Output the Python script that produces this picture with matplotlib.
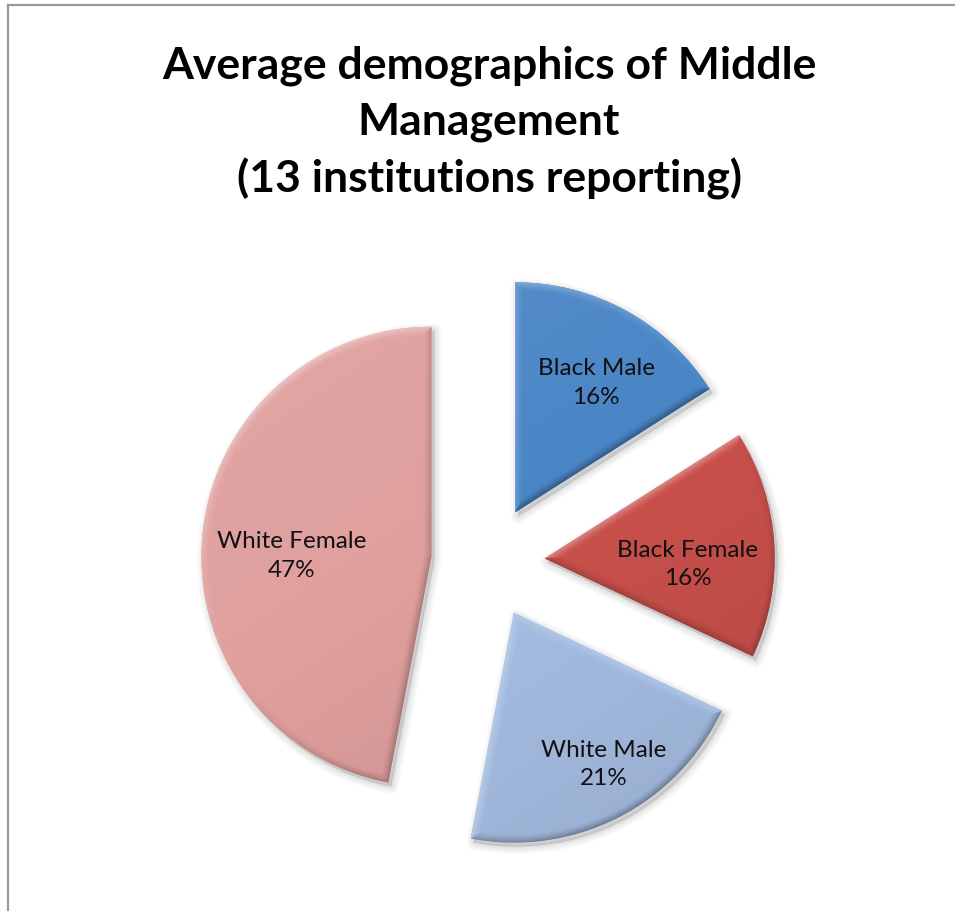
import numpy as np
import matplotlib.pyplot as plt
from matplotlib.patches import Wedge
from matplotlib.colors import to_rgb
from matplotlib.lines import Line2D

labels = ['Black Male', 'Black Female', 'White Male', 'White Female']
shares = [16, 16, 21, 47]
colors = ['#4a85c6', '#c8504b', '#a5bce1', '#df9f9d']
title = 'Average demographics of Middle\nManagement\n(13 institutions reporting)'

W, H = 955, 912
cx, cy, rad = 488, 563, 230      # pie centre / radius in pixels
pull = 0.247                     # explode distance in radii
label_r = [0.666, 0.622, 0.764, 0.609]   # label distance from slice tip
label_turn = [-3.1, -5.6, 3.8, 4.6]      # degrees off the slice mid-line

fig = plt.figure(figsize=(W / 100, H / 100), dpi=100)
ax = fig.add_axes([0, 0, 1, 1])

wedges, _ = ax.pie(shares, colors=colors, startangle=90, counterclock=False,
                   explode=[pull] * len(shares), radius=1,
                   wedgeprops=dict(linewidth=0))


def bevel(w, base):
    # soft rounded bevel, lit from the upper left
    c = np.array(w.center)
    R = w.r
    t1, t2 = np.radians(w.theta1), np.radians(w.theta2)
    x0, x1, y0, y1 = c[0] - R, c[0] + R, c[1] - R, c[1] + R
    n = int(2 * R * rad * 2)
    X, Y = np.meshgrid(np.linspace(x0, x1, n), np.linspace(y0, y1, n))
    vx, vy = X - c[0], Y - c[1]
    rho = np.hypot(vx, vy) + 1e-9
    d_arc = R - rho
    n1 = (np.sin(t1), -np.cos(t1))
    n2 = (-np.sin(t2), np.cos(t2))
    d1 = -(vx * n1[0] + vy * n1[1])
    d2 = -(vx * n2[0] + vy * n2[1])
    d = np.minimum(d_arc, np.minimum(d1, d2))
    nx = np.where(d == d_arc, vx / rho, np.where(d == d1, n1[0], n2[0]))
    ny = np.where(d == d_arc, vy / rho, np.where(d == d1, n1[1], n2[1]))
    lx, ly = -0.55, 0.83
    facing = nx * lx + ny * ly
    t = np.clip(1 - d / (9 / rad), 0, 1)
    s = 0.32 * facing * t ** 1.5
    s = s + 0.06 * (vx * lx + vy * ly) / R
    rgb = np.array(to_rgb(base))
    s = s[..., None]
    img = np.where(s > 0, rgb + (1 - rgb) * s, rgb * (1 + s))
    img = np.clip(img, 0, 1)
    im = ax.imshow(img, extent=[x0, x1, y0, y1], origin='lower',
                   interpolation='bilinear', zorder=2)
    im.set_clip_path(w)


for w, col in zip(wedges, colors):
    # drop shadow
    for lw in [10, 7, 4, 1.5]:
        ax.add_patch(Wedge((w.center[0] + 3 / rad, w.center[1] - 4 / rad), w.r,
                           w.theta1, w.theta2, facecolor='black', edgecolor='black',
                           lw=lw, alpha=0.03, zorder=0.5, joinstyle='round'))
    bevel(w, col)

for w, name, v, lr, turn in zip(wedges, labels, shares, label_r, label_turn):
    ang = np.radians((w.theta1 + w.theta2) / 2 + turn)
    x = w.center[0] + lr * w.r * np.cos(ang)
    y = w.center[1] + lr * w.r * np.sin(ang)
    ax.text(x, y, f'{name}\n{v}%', ha='center', va='center', fontsize=17.5,
            family='Lato', linespacing=1.45, color='#111111', zorder=4)

ax.set_xlim(-cx / rad, (W - cx) / rad)
ax.set_ylim((cy - H) / rad, cy / rad)
ax.set_aspect('auto')
ax.axis('off')

fig.text(489 / W, 1 - 123 / H, title, ha='center', va='center', fontsize=32,
         fontweight='bold', family='Lato', linespacing=1.47)

# outer frame (top and left edges)
fig.add_artist(Line2D([8 / W, 1], [1 - 6 / H, 1 - 6 / H], color='#9a9a9a', lw=1.6))
fig.add_artist(Line2D([8 / W, 8 / W], [0, 1 - 6 / H], color='#9a9a9a', lw=1.6))

fig.savefig('out.png', dpi=100, facecolor='white')
